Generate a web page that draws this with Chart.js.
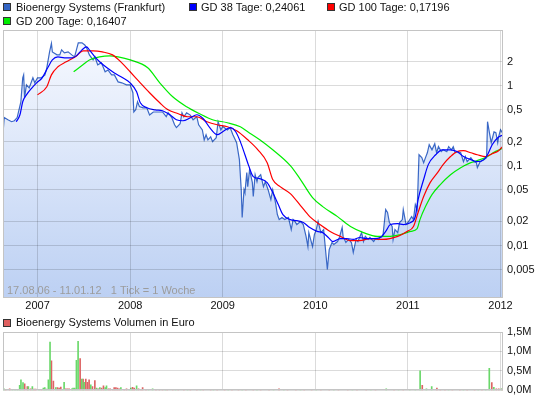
<!DOCTYPE html>
<html>
<head>
<meta charset="utf-8">
<script src="https://cdn.jsdelivr.net/npm/chart.js@4.4.1/dist/chart.umd.min.js"></script>
<style>
  body { margin: 0; background: #fff; font-family: "Liberation Sans", Arial, sans-serif; }
  #wrap { position: relative; width: 545px; height: 401px; overflow: hidden; }
  .box { position: absolute; width: 6px; height: 6px; border: 1px solid #333; z-index: 2; }
  .txt { position: absolute; font-size: 11px; line-height: 13px; color: #111; white-space: nowrap; z-index: 2; }
</style>
</head>
<body>
<div id="wrap">
  <div class="box" style="left:3px;top:3px;background:#3465c4"></div>
  <div class="txt" style="left:16px;top:1px">Bioenergy Systems (Frankfurt)</div>
  <div class="box" style="left:189px;top:3px;background:#0000ff"></div>
  <div class="txt" style="left:201px;top:1px">GD 38 Tage: 0,24061</div>
  <div class="box" style="left:327px;top:3px;background:#ff0000"></div>
  <div class="txt" style="left:339px;top:1px">GD 100 Tage: 0,17196</div>
  <div class="box" style="left:3px;top:17px;background:#00ee00"></div>
  <div class="txt" style="left:16px;top:15px">GD 200 Tage: 0,16407</div>
  <div class="box" style="left:3px;top:319px;background:#e06060"></div>
  <div class="txt" style="left:16px;top:316px">Bioenergy Systems Volumen in Euro</div>

  <div style="position:absolute;left:0;top:0;width:545px;height:315px"><canvas id="price"></canvas></div>
  <div style="position:absolute;left:0;top:315px;width:545px;height:86px"><canvas id="vol"></canvas></div>
</div>
<script>
// x values are decimal years, weekly chart 17.08.06 - 11.01.12
const X_MIN = 2006.627;
const X_MAX = 2012.027;
const years = [2007, 2008, 2009, 2010, 2011, 2012];
const priceTicks = [0.005, 0.01, 0.02, 0.05, 0.1, 0.2, 0.5, 1, 2];
const volTicks = [0, 0.5, 1, 1.5];

const price = [
  [2006.63,0.28],[2006.64,0.40],[2006.68,0.376],[2006.72,0.355],[2006.75,0.365],[2006.78,0.40],
  [2006.82,0.63],[2006.84,1.26],[2006.85,1.37],[2006.86,0.71],[2006.88,1.03],[2006.91,0.94],
  [2006.95,1.26],[2006.97,1.09],[2007.0,1.26],[2007.04,1.26],[2007.08,1.37],[2007.10,1.68],
  [2007.13,2.66],[2007.15,3.4],[2007.16,2.66],[2007.21,2.44],[2007.24,2.44],[2007.26,2.82],
  [2007.29,2.58],[2007.33,2.66],[2007.37,2.44],[2007.40,2.30],[2007.42,2.82],[2007.44,3.45],
  [2007.48,3.45],[2007.51,3.25],[2007.53,2.99],[2007.56,2.44],[2007.60,2.11],[2007.62,2.30],
  [2007.65,1.83],[2007.69,1.94],[2007.73,1.50],[2007.76,1.58],[2007.80,1.37],[2007.83,1.37],
  [2007.87,1.12],[2007.91,1.09],[2007.96,1.03],[2008.0,1.03],[2008.03,0.82],[2008.04,0.47],
  [2008.06,0.50],[2008.08,0.63],[2008.10,0.55],[2008.14,0.53],[2008.18,0.53],[2008.21,0.43],
  [2008.25,0.47],[2008.30,0.47],[2008.35,0.47],[2008.39,0.41],[2008.41,0.46],[2008.45,0.40],
  [2008.48,0.325],[2008.50,0.30],[2008.54,0.335],[2008.56,0.46],[2008.58,0.41],[2008.61,0.46],
  [2008.65,0.43],[2008.68,0.376],[2008.72,0.41],[2008.74,0.325],[2008.78,0.28],[2008.80,0.21],
  [2008.82,0.244],[2008.84,0.21],[2008.87,0.23],[2008.89,0.20],[2008.93,0.224],[2008.95,0.355],
  [2008.98,0.28],[2009.0,0.31],[2009.05,0.28],[2009.08,0.30],[2009.11,0.244],[2009.15,0.194],
  [2009.18,0.119],[2009.20,0.05],[2009.21,0.0224],[2009.23,0.05],[2009.24,0.046],[2009.26,0.0818],
  [2009.27,0.0546],[2009.29,0.089],[2009.32,0.0613],[2009.33,0.041],[2009.35,0.077],[2009.37,0.063],
  [2009.38,0.071],[2009.41,0.077],[2009.44,0.0546],[2009.46,0.063],[2009.49,0.05],[2009.52,0.0376],
  [2009.54,0.05],[2009.57,0.0345],[2009.59,0.0244],[2009.61,0.0211],[2009.64,0.0224],[2009.67,0.0211],
  [2009.71,0.0224],[2009.74,0.0158],[2009.76,0.0211],[2009.78,0.02],[2009.80,0.0183],[2009.84,0.02],
  [2009.87,0.0183],[2009.90,0.013],[2009.92,0.0097],[2009.93,0.0145],[2009.97,0.0097],[2009.99,0.0137],
  [2010.01,0.0158],[2010.03,0.02],[2010.06,0.0145],[2010.09,0.0158],[2010.11,0.0089],[2010.13,0.005],
  [2010.15,0.0089],[2010.18,0.0109],[2010.20,0.0103],[2010.24,0.0112],[2010.26,0.0126],[2010.29,0.0168],
  [2010.30,0.013],[2010.33,0.0109],[2010.36,0.0119],[2010.39,0.0109],[2010.41,0.0082],[2010.44,0.0119],
  [2010.46,0.0112],[2010.50,0.0145],[2010.52,0.0112],[2010.54,0.013],[2010.57,0.0119],[2010.59,0.0126],
  [2010.63,0.0112],[2010.65,0.0122],[2010.68,0.0119],[2010.70,0.0126],[2010.73,0.013],[2010.76,0.0282],
  [2010.78,0.0259],[2010.80,0.0194],[2010.83,0.0173],[2010.84,0.0119],[2010.86,0.0158],[2010.89,0.0145],
  [2010.91,0.0194],[2010.94,0.0211],[2010.95,0.0282],[2010.98,0.0183],[2011.0,0.0194],[2011.04,0.023],
  [2011.06,0.0211],[2011.08,0.0326],[2011.10,0.0282],[2011.11,0.0613],[2011.12,0.137],[2011.15,0.126],
  [2011.17,0.109],[2011.19,0.126],[2011.21,0.145],[2011.23,0.183],[2011.26,0.158],[2011.29,0.188],
  [2011.31,0.145],[2011.33,0.173],[2011.36,0.15],[2011.38,0.158],[2011.42,0.15],[2011.44,0.173],
  [2011.47,0.158],[2011.49,0.173],[2011.51,0.145],[2011.54,0.15],[2011.57,0.145],[2011.60,0.112],
  [2011.62,0.13],[2011.64,0.112],[2011.68,0.126],[2011.71,0.112],[2011.74,0.109],[2011.75,0.0944],
  [2011.78,0.112],[2011.82,0.119],[2011.85,0.126],[2011.86,0.355],[2011.88,0.259],[2011.90,0.194],
  [2011.93,0.265],[2011.95,0.259],[2011.97,0.194],[2011.98,0.23],[2012.0,0.282],[2012.02,0.259]
];

const gd38 = [
  [2006.77,0.355],[2006.81,0.434],[2006.84,0.631],[2006.88,0.77],[2006.94,0.944],[2006.99,1.09],
  [2007.05,1.26],[2007.11,1.68],[2007.16,2.11],[2007.22,2.30],[2007.29,2.24],[2007.37,2.24],
  [2007.42,2.37],[2007.48,2.82],[2007.53,3.07],[2007.56,2.82],[2007.62,2.30],[2007.67,2.0],
  [2007.75,1.68],[2007.83,1.45],[2007.92,1.26],[2008.0,1.09],[2008.07,0.841],[2008.11,0.613],
  [2008.18,0.531],[2008.27,0.5],[2008.35,0.487],[2008.43,0.434],[2008.50,0.376],[2008.57,0.365],
  [2008.65,0.398],[2008.72,0.434],[2008.79,0.387],[2008.86,0.299],[2008.94,0.244],[2009.0,0.266],
  [2009.08,0.299],[2009.14,0.266],[2009.19,0.2],[2009.24,0.137],[2009.28,0.1],[2009.33,0.0729],
  [2009.40,0.0688],[2009.48,0.0613],[2009.54,0.046],[2009.60,0.0326],[2009.65,0.0244],[2009.73,0.0211],
  [2009.80,0.0205],[2009.87,0.0194],[2009.94,0.0168],[2010.02,0.015],[2010.08,0.0145],[2010.14,0.0126],
  [2010.19,0.0112],[2010.27,0.0122],[2010.34,0.0122],[2010.41,0.0119],[2010.48,0.0126],[2010.56,0.0122],
  [2010.63,0.0122],[2010.70,0.0126],[2010.76,0.015],[2010.81,0.0183],[2010.89,0.0188],[2010.95,0.0183],
  [2011.03,0.0194],[2011.08,0.023],[2011.11,0.0376],[2011.17,0.067],[2011.22,0.103],[2011.30,0.137],
  [2011.37,0.158],[2011.46,0.158],[2011.53,0.15],[2011.60,0.13],[2011.68,0.119],[2011.75,0.112],
  [2011.82,0.119],[2011.86,0.137],[2011.91,0.183],[2011.97,0.224],[2012.02,0.2406]
];

const gd100 = [
  [2007.0,0.77],[2007.10,0.972],[2007.15,1.37],[2007.22,1.73],[2007.31,2.0],[2007.42,2.37],
  [2007.49,2.74],[2007.60,2.74],[2007.70,2.66],[2007.81,2.44],[2007.91,1.94],[2008.0,1.50],
  [2008.10,1.12],[2008.21,0.818],[2008.32,0.613],[2008.41,0.5],[2008.52,0.447],[2008.62,0.41],
  [2008.72,0.41],[2008.83,0.355],[2008.94,0.325],[2009.05,0.307],[2009.15,0.274],[2009.27,0.211],
  [2009.38,0.158],[2009.48,0.109],[2009.54,0.067],[2009.62,0.0546],[2009.73,0.0447],[2009.84,0.0316],
  [2009.94,0.023],[2010.05,0.0183],[2010.16,0.015],[2010.27,0.013],[2010.38,0.0115],[2010.48,0.0115],
  [2010.59,0.0122],[2010.73,0.0119],[2010.89,0.013],[2010.99,0.015],[2011.06,0.0173],[2011.11,0.0259],
  [2011.17,0.041],[2011.24,0.0613],[2011.32,0.0818],[2011.38,0.103],[2011.46,0.13],[2011.53,0.15],
  [2011.60,0.154],[2011.68,0.145],[2011.75,0.137],[2011.84,0.13],[2011.91,0.141],[2011.98,0.154],
  [2012.02,0.172]
];

const gd200 = [
  [2007.39,1.50],[2007.49,1.83],[2007.56,2.11],[2007.67,2.30],[2007.78,2.37],[2007.87,2.30],
  [2008.0,2.11],[2008.19,1.68],[2008.32,1.09],[2008.46,0.729],[2008.61,0.547],[2008.75,0.447],
  [2008.89,0.376],[2009.05,0.345],[2009.19,0.307],[2009.27,0.266],[2009.40,0.211],[2009.54,0.158],
  [2009.73,0.1],[2009.84,0.067],[2009.97,0.0398],[2010.08,0.0307],[2010.24,0.023],[2010.38,0.0173],
  [2010.52,0.0145],[2010.67,0.013],[2010.81,0.013],[2010.92,0.0137],[2011.03,0.015],[2011.10,0.0163],
  [2011.13,0.0211],[2011.19,0.0307],[2011.26,0.0434],[2011.35,0.058],[2011.46,0.077],[2011.57,0.0944],
  [2011.68,0.109],[2011.78,0.119],[2011.86,0.13],[2011.92,0.145],[2012.02,0.164]
];

// weekly turnover in Mio. Euro, green = up week, red = down week
const volUp = [
  [2006.637,0.04],[2006.728,0.02],[2006.757,0.02],[2006.782,0.025],[2006.807,0.13],[2006.821,0.27],
  [2006.843,0.2],[2006.901,0.1],[2006.944,0.1],[2007.016,0.025],[2007.063,0.06],[2007.078,0.07],
  [2007.096,0.035],[2007.117,0.27],[2007.135,1.24],[2007.197,0.07],[2007.269,0.025],[2007.287,0.21],
  [2007.37,0.04],[2007.384,0.06],[2007.402,0.06],[2007.42,0.77],[2007.438,1.26],[2007.478,0.29],
  [2007.503,0.21],[2007.575,0.14],[2007.637,0.06],[2007.673,0.07],[2007.731,0.07],[2007.745,0.12],
  [2007.9,0.07],[2007.99,0.03],[2008.008,0.06],[2008.07,0.12],[2008.2,0.02],[2008.243,0.04],
  [2008.38,0.01],[2008.49,0.015],[2008.62,0.01],[2008.76,0.015],[2008.90,0.01],[2009.06,0.015],
  [2009.21,0.01],[2009.37,0.015],[2009.55,0.01],[2009.66,0.015],[2009.84,0.01],[2010.01,0.015],
  [2010.20,0.01],[2010.40,0.015],[2010.60,0.01],[2010.766,0.04],[2010.90,0.015],[2011.02,0.02],
  [2011.08,0.03],[2011.132,0.5],[2011.2,0.04],[2011.257,0.1],[2011.44,0.015],[2011.60,0.015],
  [2011.76,0.015],[2011.84,0.02],[2011.879,0.57],[2011.928,0.08],[2012.011,0.04]
];
const volDown = [
  [2006.655,0.025],[2006.699,0.04],[2006.861,0.17],[2006.89,0.1],[2006.926,0.04],[2006.962,0.035],
  [2006.98,0.035],[2007.041,0.025],[2007.15,0.76],[2007.171,0.24],[2007.215,0.07],[2007.233,0.06],
  [2007.251,0.085],[2007.305,0.04],[2007.323,0.04],[2007.341,0.04],[2007.46,0.82],[2007.492,0.29],
  [2007.521,0.29],[2007.539,0.21],[2007.557,0.27],[2007.593,0.1],[2007.619,0.25],[2007.655,0.04],
  [2007.691,0.06],[2007.712,0.12],[2007.767,0.04],[2007.785,0.04],[2007.81,0.03],[2007.828,0.07],
  [2007.846,0.07],[2007.864,0.06],[2007.882,0.04],[2007.936,0.03],[2007.961,0.04],[2008.026,0.08],
  [2008.044,0.06],[2008.091,0.04],[2008.117,0.03],[2008.135,0.07],[2008.171,0.02],[2008.279,0.02],
  [2008.315,0.02],[2008.35,0.02],[2008.40,0.015],[2008.46,0.02],[2008.52,0.015],[2008.58,0.02],
  [2008.65,0.015],[2008.72,0.02],[2008.79,0.015],[2008.87,0.02],[2008.94,0.015],[2009.02,0.02],
  [2009.10,0.015],[2009.17,0.02],[2009.25,0.02],[2009.33,0.015],[2009.41,0.02],[2009.50,0.015],
  [2009.608,0.04],[2009.70,0.015],[2009.79,0.02],[2009.88,0.015],[2009.96,0.02],[2010.06,0.015],
  [2010.15,0.02],[2010.25,0.015],[2010.35,0.02],[2010.45,0.015],[2010.55,0.02],[2010.65,0.015],
  [2010.85,0.02],[2010.95,0.015],[2011.155,0.13],[2011.313,0.06],[2011.351,0.03],[2011.40,0.02],
  [2011.48,0.015],[2011.56,0.02],[2011.64,0.015],[2011.72,0.02],[2011.80,0.015],[2011.906,0.2],
  [2011.955,0.04],[2011.981,0.04],[2012.02,0.04]
];

const FONT = { family: '"Liberation Sans", Arial, sans-serif', size: 11 };
const GRID = 'rgba(0,0,0,0.14)';
const pts = arr => arr.map(p => ({ x: p[0], y: p[1] }));

const frame = {
  id: 'frame',
  afterDraw(c) {
    const a = c.chartArea, g = c.ctx;
    g.save();
    g.strokeStyle = '#c4c4c4';
    g.lineWidth = 1;
    g.strokeRect(Math.round(a.left) + 0.5, Math.round(a.top) + 0.5,
                 Math.round(a.right - a.left) - 1, Math.round(a.bottom - a.top) - 1);
    g.restore();
  }
};

const rangeNote = {
  id: 'rangeNote',
  afterDatasetsDraw(c) {
    const a = c.chartArea, g = c.ctx;
    g.save();
    g.font = '11px "Liberation Sans", Arial, sans-serif';
    g.fillStyle = '#9c9c9c';
    g.textBaseline = 'alphabetic';
    g.fillText('17.08.06 - 11.01.12   1 Tick = 1 Woche', a.left + 4, a.bottom - 4);
    g.restore();
  }
};

function xAxis(showLabels, h) {
  return {
    type: 'linear', min: X_MIN, max: X_MAX, offset: false,
    afterBuildTicks: s => { s.ticks = years.map(v => ({ value: v })); },
    ticks: { display: showLabels, callback: v => String(v), font: FONT, color: '#111', padding: 1, maxRotation: 0, autoSkip: false },
    grid: { color: GRID, drawTicks: false, offset: false, z: 1 },
    border: { display: false },
    afterFit: s => { s.height = h; }
  };
}

const areaFill = ctx => {
  const a = ctx.chart.chartArea;
  if (!a) return 'rgba(200,215,245,0.6)';
  const g = ctx.chart.ctx.createLinearGradient(0, a.top, 0, a.bottom);
  g.addColorStop(0, '#f8faff');
  g.addColorStop(1, '#bcd0f3');
  return g;
};

new Chart(document.getElementById('price'), {
  type: 'line',
  data: {
    datasets: [
      { label: 'GD 38', data: pts(gd38), borderColor: '#0000ff', borderWidth: 1.2, pointRadius: 0, cubicInterpolationMode: 'monotone', order: 1 },
      { label: 'GD 100', data: pts(gd100), borderColor: '#ff0000', borderWidth: 1.2, pointRadius: 0, cubicInterpolationMode: 'monotone', order: 2 },
      { label: 'GD 200', data: pts(gd200), borderColor: '#00ee00', borderWidth: 1.2, pointRadius: 0, cubicInterpolationMode: 'monotone', order: 3 },
      { label: 'Bioenergy Systems (Frankfurt)', data: pts(price), borderColor: '#3a68c6', borderWidth: 1.2, pointRadius: 0, fill: 'start', backgroundColor: areaFill, order: 4 }
    ]
  },
  options: {
    responsive: true, maintainAspectRatio: false, animation: false,
    layout: { padding: { top: 30, left: 3, right: 0, bottom: 0 } },
    plugins: { legend: { display: false }, tooltip: { enabled: false } },
    scales: {
      x: xAxis(true, 17),
      y: {
        type: 'logarithmic', position: 'right', min: 0.0022, max: 5,
        afterBuildTicks: s => { s.ticks = priceTicks.map(v => ({ value: v })); },
        ticks: { callback: v => String(v).replace('.', ','), font: FONT, color: '#111', padding: 4 },
        grid: { color: GRID, drawTicks: false, z: 1 },
        border: { display: false },
        afterFit: s => { s.width = 42; }
      }
    }
  },
  plugins: [frame, rangeNote]
});

new Chart(document.getElementById('vol'), {
  type: 'bar',
  data: {
    datasets: [
      { label: 'up', data: pts(volUp), backgroundColor: '#6ad86a', barThickness: 1, grouped: false },
      { label: 'down', data: pts(volDown), backgroundColor: '#dd6464', barThickness: 1, grouped: false }
    ]
  },
  options: {
    responsive: true, maintainAspectRatio: false, animation: false,
    layout: { padding: { top: 17, left: 3, right: 0, bottom: 0 } },
    plugins: { legend: { display: false }, tooltip: { enabled: false } },
    scales: {
      x: xAxis(false, 9),
      y: {
        position: 'right', min: 0, max: 1.5,
        afterBuildTicks: s => { s.ticks = volTicks.map(v => ({ value: v })); },
        ticks: { callback: v => v.toFixed(1).replace('.', ',') + 'M', font: FONT, color: '#111', padding: 4 },
        grid: { color: GRID, drawTicks: false },
        border: { display: false },
        afterFit: s => { s.width = 42; }
      }
    }
  },
  plugins: [frame]
});
</script>
</body>
</html>
